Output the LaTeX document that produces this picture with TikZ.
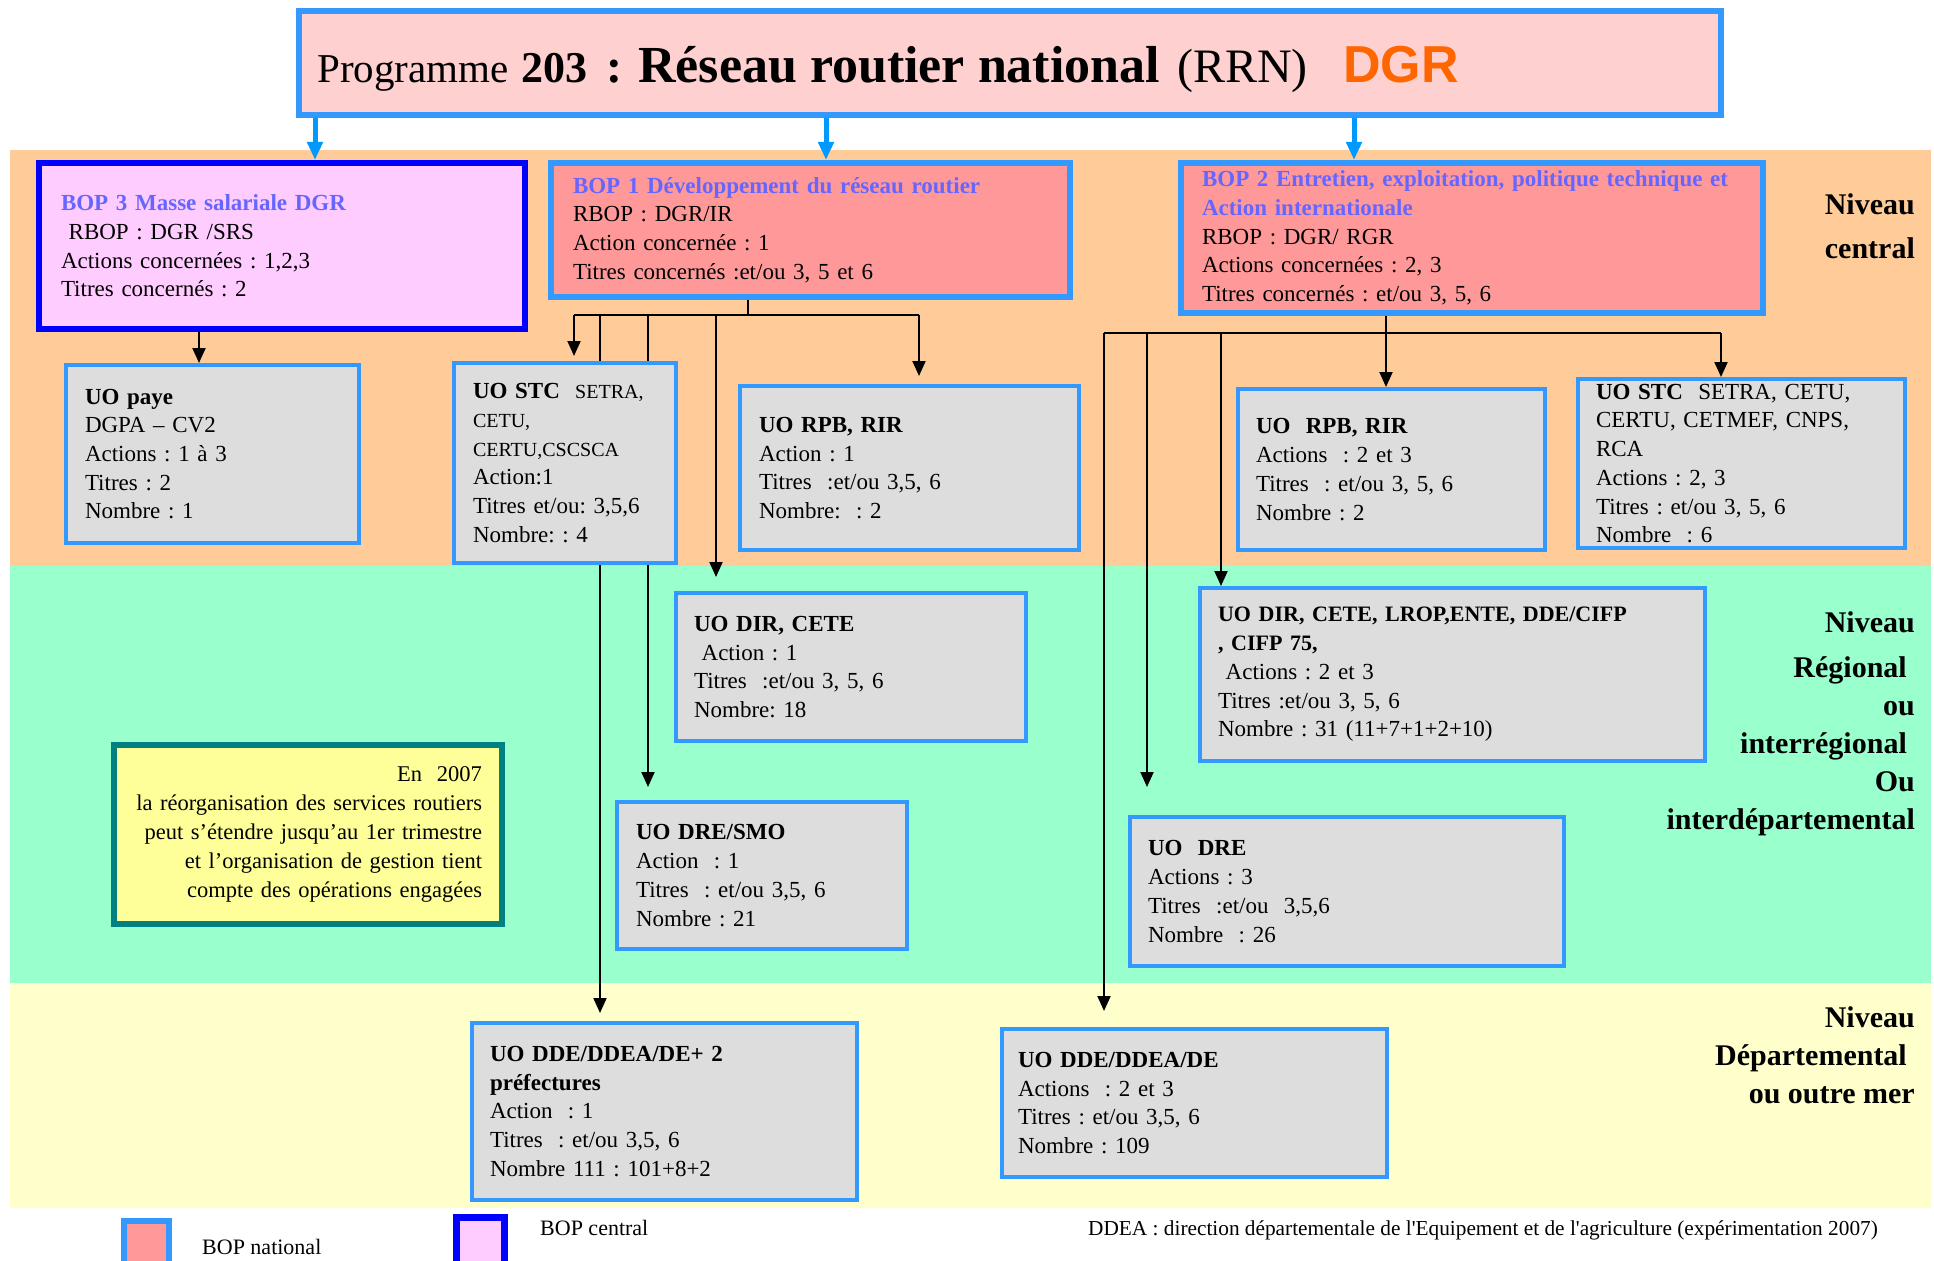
\documentclass[tikz,border=0pt]{standalone}
\usepackage{fontspec}
\setmainfont{Liberation Serif}
\setsansfont{Liberation Sans}
\usetikzlibrary{arrows.meta}
\frenchspacing
\definecolor{bandO}{HTML}{FFCC99}
\definecolor{bandG}{HTML}{99FFCC}
\definecolor{bandY}{HTML}{FFFFCC}
\definecolor{bblue}{HTML}{3399FF}
\definecolor{ablue}{HTML}{0099FF}
\definecolor{titlefill}{HTML}{FFD0D0}
\definecolor{bopfill}{HTML}{FF9999}
\definecolor{pinkfill}{HTML}{FFCCFF}
\definecolor{pureblue}{HTML}{0000FF}
\definecolor{uofill}{HTML}{DDDDDD}
\definecolor{notefill}{HTML}{FFFF99}
\definecolor{noteborder}{HTML}{008080}
\definecolor{boptxt}{HTML}{6666FF}
\definecolor{dgrcol}{HTML}{FF6600}
\pgfdeclarelayer{bg}
\pgfsetlayers{bg,main}
\newcommand\bxfont{\fontsize{23}{28.7}\selectfont}
\newcommand\smfont{\fontsize{20}{28.7}\selectfont}
\newcommand\lvfont{\fontsize{30}{38}\selectfont\bfseries}
\newcommand\boxat[8]{%
  \pgfmathsetmacro\bw{#6-#4}%
  \pgfmathsetmacro\bh{#7-#5}%
  \pgfmathsetmacro\tw{#6-#4-2*#2}%
  \node[inner xsep=#2pt, inner ysep=0pt, minimum width=\bw pt, minimum height=\bh pt,
        text width=\tw pt, align=left, #1] (#3) at ({(#4+#6)/2},{(#5+#7)/2}) {#8};}
\newcommand\bt[1]{\textcolor{boptxt}{\textbf{#1}}}
\begin{document}
\begin{tikzpicture}[x=1pt,y=-1pt,
  bopbox/.style={draw=bblue, line width=6pt, fill=bopfill, font=\bxfont},
  centralbox/.style={draw=pureblue, line width=6pt, fill=pinkfill, font=\bxfont},
  uobox/.style={draw=bblue, line width=4pt, fill=uofill, font=\bxfont},
  notebox/.style={draw=noteborder, line width=6pt, fill=notefill, font=\fontsize{22.5}{29}\selectfont, align=right},
  ttl/.style={anchor=base west, inner sep=0pt},
  lvl/.style={anchor=base east, inner sep=0pt, align=right, font=\lvfont},
  conn/.style={draw=black, line width=2pt},
  arr/.style={conn, -{Triangle[length=15pt,width=13pt]}},
  barr/.style={draw=ablue, line width=5pt, -{Triangle[length=18pt,width=15pt]}},
  legtxt/.style={anchor=base west, inner sep=0pt, font=\fontsize{22}{22}\selectfont}
]
\useasboundingbox (0,0) rectangle (1934,1260);
\begin{pgfonlayer}{bg}
\fill[white] (0,0) rectangle (1934,1260);
\fill[bandO] (10,150) rectangle (1931,566);
\fill[bandG] (10,566) rectangle (1931,983);
\fill[bandY] (10,983) rectangle (1931,1208);
\end{pgfonlayer}

% title
\node[draw=bblue, line width=6pt, fill=titlefill, minimum width=1422pt, minimum height=104pt, inner sep=0pt] (title) at (1010,63) {};
\node[ttl] (t1) at (317,83) {\fontsize{41}{41}\selectfont Programme};
\node[ttl] (t2) at (521,83) {\fontsize{44}{44}\selectfont\bfseries 203};
\node[ttl] (t3) at (606,83) {\fontsize{48}{48}\selectfont\bfseries :};
\node[ttl] (t4) at (638,83) {\fontsize{52}{52}\selectfont\bfseries Réseau routier national};
\node[ttl] (t5) at (1177,83) {\fontsize{48}{48}\selectfont (RRN)};
\node[ttl] (t6) at (1343,83) {\fontsize{52}{52}\selectfont\sffamily\bfseries\color{dgrcol}DGR};

% BOP boxes
\boxat{centralbox}{22}{bop3}{39}{163}{525}{329}{\bt{BOP 3 Masse salariale DGR}\\
\ RBOP : DGR /SRS\\
Actions concernées : 1,2,3\\
Titres concernés : 2}
\boxat{bopbox}{22}{bop1}{551}{163}{1070}{297}{\bt{BOP 1 Développement du réseau routier}\\
RBOP : DGR/IR\\
Action concernée : 1\\
Titres concernés :et/ou 3, 5 et 6}
\boxat{bopbox}{21}{bop2}{1181}{163}{1763}{313}{\bt{BOP 2 Entretien, exploitation, politique technique et}\\
\bt{Action internationale}\\
RBOP : DGR/ RGR\\
Actions concernées : 2, 3\\
Titres concernés : et/ou 3, 5, 6}

% UO central level
\boxat{uobox}{19}{paye}{66}{365}{359}{543}{\textbf{UO paye}\\
DGPA – CV2\\
Actions : 1 à 3\\
Titres : 2\\
Nombre : 1}
\boxat{uobox}{19}{stc1}{454}{363}{676}{563}{\textbf{UO STC}~ {\smfont SETRA,}\\
{\smfont CETU,}\\
{\smfont CERTU,CSCSCA}\\
Action:1\\
Titres et/ou: 3,5,6\\
Nombre: : 4}
\boxat{uobox}{19}{rpb1}{740}{386}{1079}{550}{\textbf{UO RPB, RIR}\\
Action : 1\\
Titres~ :et/ou 3,5, 6\\
Nombre:~ : 2}
\boxat{uobox}{18}{rpb2}{1238}{389}{1545}{550}{\textbf{UO~ RPB, RIR}\\
Actions~ : 2 et 3\\
Titres~ : et/ou 3, 5, 6\\
Nombre : 2}
\boxat{uobox}{18}{stc2}{1578}{379}{1905}{548}{\textbf{UO STC}~ SETRA, CETU,\\
CERTU, CETMEF, CNPS,\\
RCA\\
Actions : 2, 3\\
Titres : et/ou 3, 5, 6\\
Nombre~ : 6}

% regional level
\boxat{uobox}{18}{dir1}{676}{593}{1026}{741}{\textbf{UO DIR, CETE}\\
\ Action : 1\\
Titres~ :et/ou 3, 5, 6\\
Nombre: 18}
\boxat{uobox}{19}{dresmo}{617}{802}{907}{949}{\textbf{UO DRE/SMO}\\
Action~ : 1\\
Titres~ : et/ou 3,5, 6\\
Nombre : 21}
\boxat{uobox}{18}{dir2}{1200}{588}{1705}{761}{{\fontsize{22}{28.4}\selectfont\textbf{UO DIR, CETE, LROP,ENTE, DDE/CIFP}}\\
{\fontsize{22}{28.4}\selectfont\textbf{, CIFP 75,}}\\
\ Actions : 2 et 3\\
Titres :et/ou 3, 5, 6\\
Nombre : 31 (11+7+1+2+10)}
\boxat{uobox}{18}{dre2}{1130}{817}{1564}{966}{\textbf{UO~ DRE}\\
Actions : 3\\
Titres~ :et/ou~ 3,5,6\\
Nombre~ : 26}
\boxat{notebox}{20}{note}{114}{745}{502}{924}{En~ 2007\\
la réorganisation des services routiers\\
peut s’étendre jusqu’au 1er trimestre\\
et l’organisation de gestion tient\\
compte des opérations engagées}

% departmental level
\boxat{uobox}{18}{dde1}{472}{1023}{857}{1200}{\textbf{UO DDE/DDEA/DE+ 2}\\
\textbf{préfectures}\\
Action~ : 1\\
Titres~ : et/ou 3,5, 6\\
Nombre 111 : 101+8+2}
\boxat{uobox}{16}{dde2}{1002}{1029}{1387}{1177}{\textbf{UO DDE/DDEA/DE}\\
Actions~ : 2 et 3\\
Titres : et/ou 3,5, 6\\
Nombre : 109}

% level labels (anchor = baseline of last line)
\node[lvl] (lvc) at (1915,258) {Niveau\\[6pt]central};
\node[lvl] (lvr) at (1915,829) {Niveau\\[7pt]Régional\kern8pt\\ou\\interrégional\kern8pt\\Ou\\interdépartemental};
\node[lvl] (lvd) at (1915,1103) {Niveau\\Départemental\kern8pt\\ou outre mer};

% legend
\node[draw=bblue, line width=6pt, fill=bopfill, minimum width=45pt, minimum height=50pt, inner sep=0pt] (legnat) at (146.5,1246) {};
\node[legtxt] (legnattxt) at (202,1254) {BOP national};
\node[draw=pureblue, line width=7pt, fill=pinkfill, minimum width=48pt, minimum height=56pt, inner sep=0pt] (legcen) at (480.5,1245) {};
\node[legtxt] (legcentxt) at (540,1235) {BOP central};
\node[anchor=base west, inner sep=0pt, font=\fontsize{21.3}{21.3}\selectfont] (ddea) at (1088,1235) {DDEA : direction départementale de l\textquotesingle Equipement et de l\textquotesingle agriculture (expérimentation 2007)};

% connectors
\begin{pgfonlayer}{bg}
\draw[barr] (315,0 |- title.south) -- (315,0 |- bop3.north);
\draw[barr] (826,0 |- title.south) -- (826,0 |- bop1.north);
\draw[barr] (1354,0 |- title.south) -- (1354,0 |- bop2.north);

\draw[arr] (199,0 |- bop3.south) -- (199,0 |- paye.north);

\coordinate (b1) at (748,315);
\coordinate (b1l) at (574,315);
\coordinate (b1r) at (919,315);
\draw[conn] (bop1.south -| b1) -- (b1);
\draw[conn] (b1l) -- (b1r);
\draw[arr, shorten >=5pt] (b1l) -- (b1l |- stc1.north);
\draw[arr, shorten >=8pt] (600,315) -- (600,0 |- dde1.north);
\draw[arr, shorten >=13pt] (648,315) -- (648,0 |- dresmo.north);
\draw[arr, shorten >=14pt] (716,315) -- (716,0 |- dir1.north);
\draw[arr, shorten >=8pt] (b1r) -- (b1r |- rpb1.north);

\coordinate (b2) at (1386,333);
\coordinate (b2l) at (1104,333);
\coordinate (b2r) at (1721,333);
\draw[conn] (bop2.south -| b2) -- (b2);
\draw[conn] (b2l) -- (b2r);
\draw[arr, shorten >=16pt] (b2l) -- (b2l |- dde2.north);
\draw[arr, shorten >=28pt] (1147,333) -- (1147,0 |- dre2.north);
\draw[arr] (1221,333) -- (1221,0 |- dir2.north);
\draw[arr] (b2) -- (b2 |- rpb2.north);
\draw[arr] (b2r) -- (b2r |- stc2.north);
\end{pgfonlayer}
\end{tikzpicture}
\end{document}
